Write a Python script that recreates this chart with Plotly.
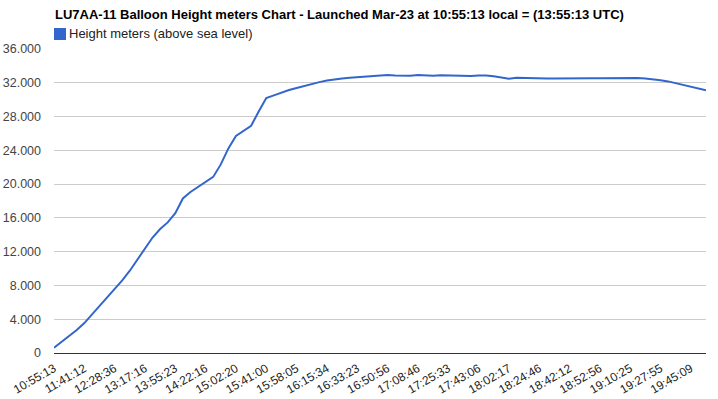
import plotly.graph_objects as go

title_text = "LU7AA-11 Balloon Height meters Chart - Launched Mar-23 at 10:55:13 local = (13:55:13 UTC)"
series_name = "Height meters (above sea level)"

tick_labels = ["10:55:13", "11:41:12", "12:28:36", "13:17:16", "13:55:23", "14:22:16",
               "15:02:20", "15:41:00", "15:58:05", "16:15:34", "16:33:23", "16:50:56",
               "17:08:46", "17:25:33", "17:43:06", "18:02:17", "18:24:46", "18:42:12",
               "18:52:56", "19:10:25", "19:27:55", "19:45:09"]
label_step = 4

height_m = [616, 1314, 2013, 2728, 3541, 4547, 5589, 6513, 7508, 8609,
            9746, 11049, 12398, 13677, 14678, 15466, 16567, 18296, 19071, 19634,
            20238, 20854, 22334, 24229, 25697, 26294, 26905, 28598, 30185, 30513,
            30837, 31136, 31378, 31642, 31898, 32079, 32259, 32424, 32505, 32586,
            32667, 32748, 32820, 32874, 32916, 32871, 32826, 32845, 32910, 32842,
            32827, 32882, 32844, 32805, 32768, 32812, 32857, 32865, 32768, 32609,
            32480, 32597, 32563, 32525, 32486, 32499, 32518, 32537, 32556, 32561,
            32550, 32541, 32530, 32545, 32562, 32579, 32594, 32567, 32509, 32450,
            32309, 32163, 31960, 31737, 31531, 31324, 31110]

y_ticks = [0, 4000, 8000, 12000, 16000, 20000, 24000, 28000, 32000, 36000]
y_tick_text = ["0", "4.000", "8.000", "12.000", "16.000", "20.000", "24.000", "28.000", "32.000", "36.000"]

idx = list(range(len(height_m)))
tick_vals = [i * label_step for i in range(len(tick_labels))]

FONT = "Liberation Sans, Arial, sans-serif"
BLUE = "#3366cc"

fig = go.Figure()
fig.add_trace(go.Scatter(x=idx, y=height_m, mode="lines", name=series_name,
                         line=dict(color=BLUE, width=2), showlegend=False,
                         hoverinfo="y"))

W, H = 718, 399
L, R, T, B = 54, 12, 49, 46
pw, ph = W - L - R, H - T - B

def px(x):
    return (x - L) / pw

def py(y):
    return (H - B - y) / ph

fig.update_layout(
    width=W, height=H,
    margin=dict(l=L, r=R, t=T, b=B, pad=0, autoexpand=False),
    paper_bgcolor="white", plot_bgcolor="white",
    font=dict(family=FONT, size=13, color="#222"),
    showlegend=False,
    xaxis=dict(range=[0, len(height_m) - 1], tickvals=tick_vals, ticktext=tick_labels,
               tickangle=-30, showgrid=False, zeroline=False, showline=True,
               linecolor="#333", linewidth=1, ticks="", automargin=False,
               ticklabelstandoff=3,
               tickfont=dict(family=FONT, size=12, color="#222")),
    yaxis=dict(range=[0, 36000], tickvals=y_ticks, ticktext=y_tick_text,
               showgrid=True, gridcolor="#cccccc", gridwidth=1, zeroline=False,
               showline=False, ticks="", ticklabelstandoff=12, automargin=False,
               tickfont=dict(family=FONT, size=12.5, color="#444")),
    shapes=[dict(type="rect", xref="paper", yref="paper",
                 x0=px(54), x1=px(66), y0=py(40), y1=py(28),
                 fillcolor=BLUE, line=dict(width=0))],
    annotations=[
        dict(text="<b>" + title_text + "</b>", xref="paper", yref="paper",
             x=px(53), y=py(14), xanchor="left", yanchor="middle", showarrow=False,
             font=dict(family=FONT, size=13, color="#000")),
        dict(text=series_name, xref="paper", yref="paper",
             x=px(67), y=py(34), xanchor="left", yanchor="middle", showarrow=False,
             font=dict(family=FONT, size=13, color="#222")),
    ],
)

fig.write_html("out.html")
